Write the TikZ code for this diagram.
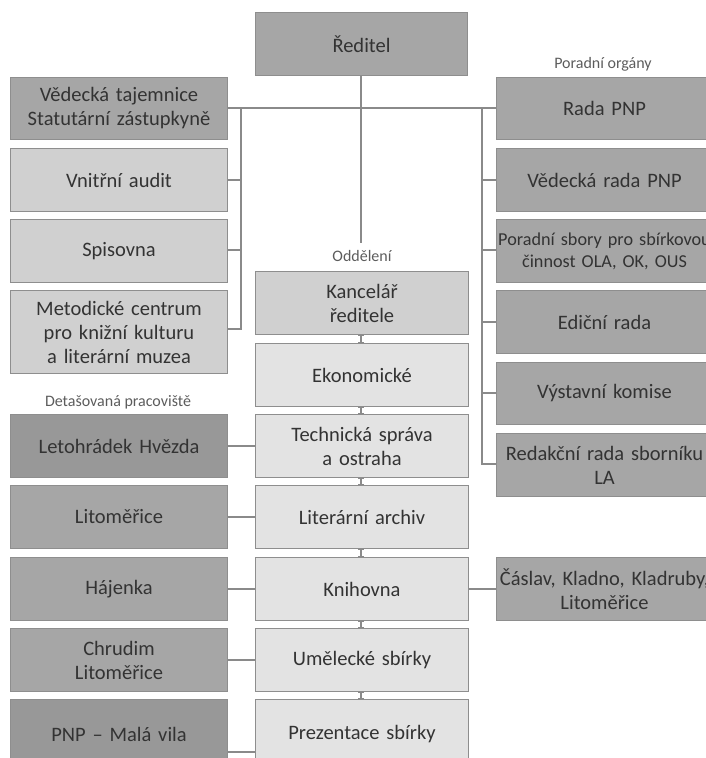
\documentclass[tikz,border=0pt]{standalone}
\usepackage{fontspec}
\setmainfont{Carlito}
\usetikzlibrary{arrows.meta}
\definecolor{dk}{HTML}{A6A6A6}
\definecolor{dkr}{HTML}{989898}
\definecolor{lt}{HTML}{D0D0D0}
\definecolor{ltr}{HTML}{E3E3E3}
\definecolor{bd}{HTML}{8E8E8E}
\definecolor{tx}{HTML}{333333}
\definecolor{ln}{HTML}{8A8A8A}
\tikzset{
  box/.style={draw=bd, line width=1pt, anchor=north west, align=center, text=tx,
    font=\fontsize{20.5}{24}\selectfont, inner sep=0pt, text width=#1},
  box/.default=213pt,
  lbl/.style={text=tx!80, font=\fontsize{16}{19}\selectfont, inner sep=0pt},
  con/.style={draw=ln, line width=1.3pt},
  mcon/.style={draw=ln, line width=1.3pt, {Bar[width=6pt,line width=1pt]}-{Bar[width=6pt,line width=1pt]}},
}
\begin{document}
\begin{tikzpicture}[x=1pt,y=-1pt]
\useasboundingbox (0,0) rectangle (706,758);
\clip (0,0) rectangle (706,758);
% top
\node[box=212pt, fill=dk, minimum height=63pt] (red) at (255,12) {Ředitel};
% left column
\node[box=217pt, fill=dk, minimum height=62pt] (ved) at (10,77) {Vědecká tajemnice\\Statutární zástupkyně};
\node[box=217pt, fill=lt, minimum height=63pt] (aud) at (10,148) {Vnitřní audit};
\node[box=217pt, fill=lt, minimum height=63pt] (spi) at (10,219) {Spisovna};
\node[box=217pt, fill=lt, minimum height=83pt] (met) at (10,290) {Metodické centrum\\pro knižní kulturu\\a literární muzea};
\node[lbl] (detl) at (118,402) {Detašovaná pracoviště};
\node[box=217pt, fill=dkr, minimum height=63pt] (let) at (10,414) {Letohrádek Hvězda};
\node[box=217pt, fill=dk, minimum height=63pt] (lit) at (10,485) {Litoměřice};
\node[box=217pt, fill=dk, minimum height=63pt] (haj) at (10,557) {Hájenka};
\node[box=217pt, fill=dk, minimum height=63pt] (chr) at (10,628) {Chrudim\\Litoměřice};
\node[box=217pt, fill=dkr, minimum height=70pt] (pnp) at (10,699) {PNP – Malá vila\\[14pt]};
% middle column
\node[lbl] (oddl) at (362,256) {Oddělení};
\node[box, fill=lt, minimum height=63pt] (kan) at (255,271) {Kancelář\\ředitele};
\node[box, fill=ltr, minimum height=63pt] (eko) at (255,343) {Ekonomické};
\node[box, fill=ltr, minimum height=63pt] (tec) at (255,414) {Technická správa\\a ostraha};
\node[box, fill=ltr, minimum height=63pt] (arc) at (255,485) {Literární archiv};
\node[box, fill=ltr, minimum height=63pt] (kni) at (255,557) {Knihovna};
\node[box, fill=ltr, minimum height=63pt] (ume) at (255,628) {Umělecké sbírky};
\node[box, fill=ltr, minimum height=70pt] (pre) at (255,699) {Prezentace sbírky\\[14pt]};
% right column
\node[lbl] (porl) at (603,64) {Poradní orgány};
\node[box=216pt, fill=dk, minimum height=62pt] (rad) at (496,77) {Rada PNP};
\node[box=216pt, fill=dk, minimum height=63pt] (vrp) at (496,148) {Vědecká rada PNP};
\node[box=216pt, fill=dk, minimum height=63pt, font=\fontsize{18.2}{22}\selectfont] (por) at (496,219) {Poradní sbory pro sbírkovou\\činnost OLA, OK, OUS};
\node[box=216pt, fill=dk, minimum height=63pt] (edi) at (496,290) {Ediční rada};
\node[box=216pt, fill=dk, minimum height=62pt] (vys) at (496,362) {Výstavní komise};
\node[box=216pt, fill=dk, minimum height=63pt] (red2) at (496,433) {Redakční rada sborníku\\LA};
\node[box=216pt, fill=dk, minimum height=63pt] (cas) at (496,557) {Čáslav, Kladno, Kladruby,\\Litoměřice};
% connectors
\coordinate (vtop) at (361,243);
\draw[con] (red.south -| vtop) -- (vtop);
\draw[con] (ved.east |- 0,108) -- (rad.west |- 0,108);
\draw[con] (241,108) -- (241,329) -- (met.east |- 0,329);
\draw[con] (241,180) -- (aud.east |- 0,180);
\draw[con] (241,250) -- (spi.east |- 0,250);
\draw[con] (482,108) -- (482,464) -- (red2.west |- 0,464);
\draw[con] (482,180) -- (vrp.west |- 0,180);
\draw[con] (482,250) -- (por.west |- 0,250);
\draw[con] (482,322) -- (edi.west |- 0,322);
\draw[con] (482,393) -- (vys.west |- 0,393);
\foreach \a/\b in {kan/eko, eko/tec, tec/arc, arc/kni, kni/ume, ume/pre}
  \draw[mcon] (\a.south -| vtop) -- (\b.north -| vtop);
\draw[con] (let.east) -- (tec.west |- let.east);
\draw[con] (lit.east) -- (arc.west |- lit.east);
\draw[con] (haj.east) -- (kni.west |- haj.east);
\draw[con] (chr.east) -- (ume.west |- chr.east);
\draw[con] (pnp.east |- 0,752) -- (pre.west |- 0,752);
\draw[con] (kni.east |- 0,589) -- (cas.west |- 0,589);
\end{tikzpicture}
\end{document}
